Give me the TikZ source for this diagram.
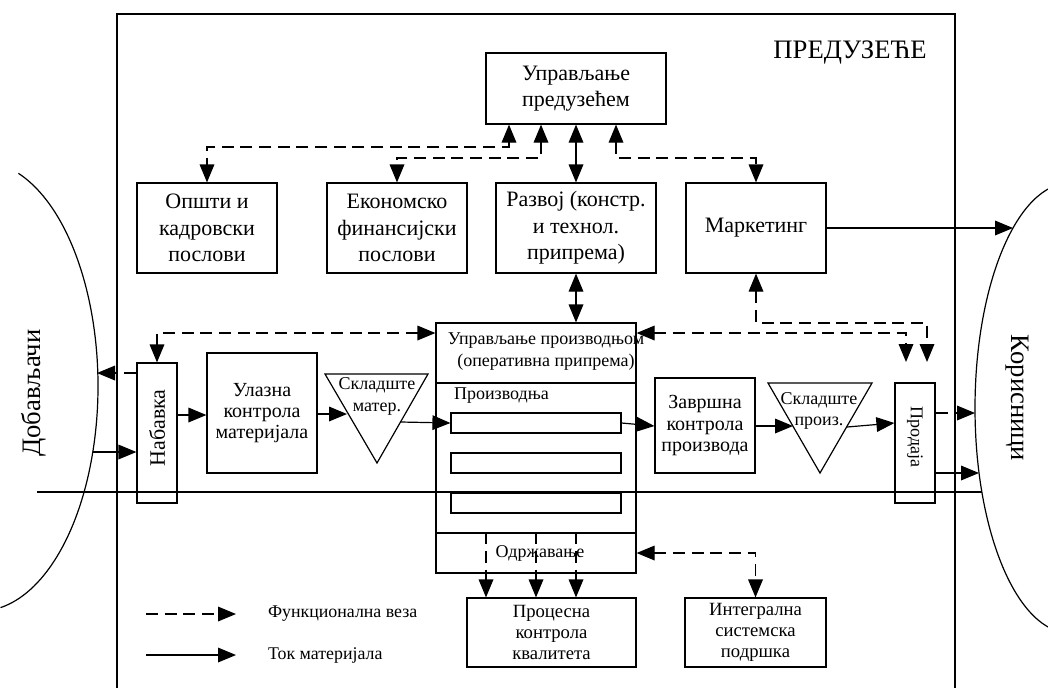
\documentclass[tikz,border=0pt]{standalone}
\usepackage{fontspec}
\setmainfont{Liberation Serif}
\usetikzlibrary{arrows.meta}
\begin{document}
\begin{tikzpicture}[x=0.75pt,y=-0.75pt,
  line width=0.9pt,
  >={Triangle[length=13.5pt,width=11pt]},
  box/.style={draw, inner sep=0pt, align=center},
  big/.style={font=\fontsize{16.5}{20}\selectfont},
  small/.style={font=\fontsize{13.5}{16}\selectfont},
  medium/.style={font=\fontsize{15}{16}\selectfont},
  support/.style={font=\fontsize{14}{16}\selectfont},
  legendtext/.style={font=\fontsize{13.4}{16}\selectfont, anchor=west},
  sidelabel/.style={font=\fontsize{20}{24}\selectfont},
  func/.style={dash pattern=on 9pt off 5pt}]
\useasboundingbox (0,0) rectangle (1048,687);
\clip (0,0) rectangle (1048,687);

% enterprise frame
\draw (117,700) -- (117,14) -- (955,14) -- (955,700);
\node[sidelabel] (firm) at (850,52) {ПРЕДУЗЕЋЕ};

% suppliers and customers
\draw (18.4,173.3) arc[start angle=-71, end angle=80, x radius=118, y radius=225];
\draw (1070,408) ellipse[x radius=95, y radius=225];
\node[sidelabel, rotate=90] (dob) at (34,393) {Добављачи};
\node[sidelabel, rotate=-90] (kor) at (1017,398) {Корисници};

% management level
\node[box,big,minimum width=135pt,minimum height=53.25pt] (upr) at (576,88.5) {Управљање\\предузећем};
\node[box,big,minimum width=105pt,minimum height=67.5pt] (opsti) at (207,228) {Општи и\\кадровски\\послови};
\node[box,big,minimum width=105pt,minimum height=67.5pt] (ekon) at (397,228) {Економско\\финансијски\\послови};
\node[box,big,minimum width=120pt,minimum height=67.5pt] (razvoj) at (576,228) {Развој (констр.\\и технол.\\припрема)};
\node[box,big,minimum width=105pt,minimum height=67.5pt] (mark) at (756,228) {Маркетинг};

% production block
\node[box,minimum width=150pt,minimum height=45pt] (uprproizv) at (536,353) {};
\node[small,align=center] (uprproizvtxt) at (546,351.5) {Управљање производњом\\(оперативна припрема)};
\node[box,minimum width=150pt,minimum height=112.5pt] (proizv) at (536,458) {};
\node[small,anchor=west] (proizvtxt) at (449,396) {Производња};
\node[box,minimum width=127.5pt,minimum height=15pt] (bar1) at (536,423) {};
\node[box,minimum width=127.5pt,minimum height=15pt] (bar2) at (536,463) {};
\node[box,minimum width=127.5pt,minimum height=15pt] (bar3) at (536,503) {};
\node[box,small,minimum width=150pt,minimum height=30pt] (odrz) at (536,553) {\hspace*{6pt}Одржавање};

% material line
\node[box,minimum width=30pt,minimum height=105pt] (nabavka) at (157,433) {};
\node[big,rotate=90] (nabavkatxt) at (157,428) {Набавка};
\node[box,medium,minimum width=82.5pt,minimum height=90pt] (ulazna) at (262,413) {Улазна\\контрола\\материјала};
\draw (325,374) -- (428,374) -- (377,463) -- cycle;
\node[small,align=center] (skl1) at (377,396.5) {Складште\\матер.};
\node[box,medium,minimum width=75pt,minimum height=71.25pt] (zavrsna) at (705,425.5) {Завршна\\контрола\\производа};
\draw (768,383) -- (872,383) -- (820,473) -- cycle;
\node[small,align=center] (skl2) at (819,411) {Складште\\произ.};
\node[box,minimum width=30pt,minimum height=90pt] (prodaja) at (915,443) {};
\node[small,rotate=-90] (prodajatxt) at (915,437) {Продаја};

% support functions
\node[box,support,minimum width=126.75pt,minimum height=51.75pt] (procesna) at (551.5,632.5) {Процесна\\контрола\\квалитета};
\node[box,support,minimum width=105.75pt,minimum height=51.75pt] (integralna) at (755.5,632.5) {Интегрална\\системска\\подршка};

% connection points on the outer curves and floating ends
\coordinate (supIn) at (93,452);
\coordinate (supOut) at (97,373);
\coordinate (cusIn1) at (975,413);
\coordinate (cusIn2) at (979,473);
\coordinate (cusMk) at (1013,228);
\coordinate (t1in) at (347,414);
\coordinate (t1out) at (401,422);
\coordinate (t2in) at (793,426);
\coordinate (t2out) at (847,427);
\coordinate (sellA) at (906,362);
\coordinate (sellB) at (927,362);
\coordinate (lineL) at (37,492);
\coordinate (lineR) at (982,492);

% links from company management
\draw[func,<->] (upr.south -| 509,0) -- (509,147) -| (opsti.north);
\draw[func,<->] (upr.south -| 541,0) -- (541,158) -| (ekon.north);
\draw[<->] (upr.south) -- (razvoj.north);
\draw[func,<->] (upr.south -| 616,0) -- (616,158) -| (mark.north);
\draw[->] (mark.east) -- (cusMk);

% links around production control
\draw[<->] (razvoj.south) -- (razvoj.south |- uprproizv.north);
\draw[func,<->] (uprproizv.west |- 0,333) -| (nabavka.north);
\draw[func,<->] (uprproizv.east |- 0,333) -| (sellA);
\draw[func,<->] (mark.south) -- (mark.south |- 0,323) -| (sellB);

% material flow
\draw[->] (supIn) -- (nabavka.west |- supIn);
\draw[func,->] (nabavka.west |- supOut) -- (supOut);
\draw[->] (nabavka.east |- 0,415) -- (ulazna.west |- 0,415);
\draw[->] (ulazna.east |- t1in) -- (t1in);
\draw[->] (t1out) -- (bar1.west);
\draw[->] (bar1.east) -- (zavrsna.west |- 0,426);
\draw[->] (zavrsna.east |- t2in) -- (t2in);
\draw[->] (t2out) -- (prodaja.west |- 0,423);
\draw[func,->] (prodaja.east |- cusIn1) -- (cusIn1);
\draw[->] (prodaja.east |- cusIn2) -- (cusIn2);
\draw (lineL) -- (lineR);

% maintenance links
\foreach \x in {486,536,576}
  \draw[func,->] (odrz.north -| \x,0) -- (procesna.north -| \x,0);
\draw[func,<->] (odrz.east) -| (integralna.north);

% legend
\coordinate (lg1a) at (146,614);
\coordinate (lg1b) at (236,614);
\coordinate (lg2a) at (146,655);
\coordinate (lg2b) at (236,655);
\draw[func,->] (lg1a) -- (lg1b);
\node[legendtext] (lg1t) at (263,614) {Функционална веза};
\draw[->] (lg2a) -- (lg2b);
\node[legendtext] (lg2t) at (263,655) {Ток материјала};
\end{tikzpicture}
\end{document}
